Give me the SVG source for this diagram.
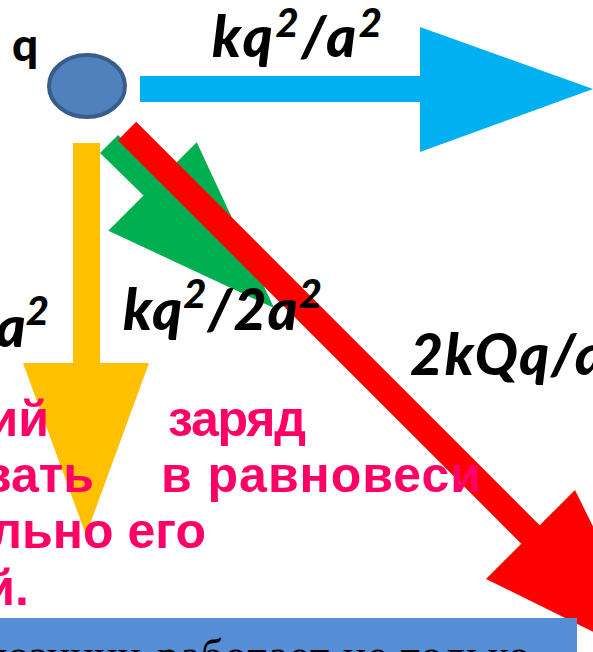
<svg xmlns="http://www.w3.org/2000/svg" width="593" height="652" viewBox="0 0 593 652">
<style>
.math{font-family:Lato,"Noto Sans","Liberation Sans",sans-serif;font-weight:900;font-style:italic;font-size:57px;fill:#000}
.sup{font-size:40px}
.pink{font-family:"Liberation Sans",Arial,sans-serif;font-weight:bold;font-size:50px;fill:#FF0066}
.serif{font-family:"Liberation Serif","Times New Roman",serif;font-size:44px;fill:#000}
</style>
<rect width="593" height="652" fill="#FFFFFF"/>
<g id="connectors">
<polygon id="arrow-blue" fill="#00B0F0" points="140,76 420,76 420,27 593,89 420,152 420,102 140,102"/>
<polygon id="arrow-yellow" fill="#FFC000" points="73,143 100,143 100,363 149,363 86,535 23,363 73,363"/>
<polygon id="arrow-green" fill="#00B050" points="118,135 161.5,177.5 196.7,142.3 274.1,308.1 108.3,230.7 143.5,195.5 100,153"/>
<polygon id="arrow-red" fill="#FF0000" points="136.2,121.8 539.7,525.3 575,490 661.3,665.3 486,579 521.3,543.7 117.8,140.2"/>
</g>
<g id="node-q">
<ellipse cx="87" cy="86" rx="38" ry="31" fill="#4F81BD" stroke="#385D8A" stroke-width="4"/>
<text x="12" y="61" style="font-family:Lato,'Noto Sans','Liberation Sans',sans-serif;font-weight:900;font-size:46px;fill:#000">q</text>
</g>
<g id="labels">
<text class="math" x="212" y="57" textLength="170">kq<tspan class="sup" dy="-20">2</tspan><tspan dy="20">/a</tspan><tspan class="sup" dy="-20">2</tspan></text>
<text class="math" x="123" y="330" textLength="199">kq<tspan class="sup" dy="-22">2</tspan><tspan dy="22">/2a</tspan><tspan class="sup" dy="-22">2</tspan></text>
<text class="math" x="49" y="347" text-anchor="end">a<tspan class="sup" dy="-22">2</tspan></text>
<text class="math" x="410" y="375" textLength="195">2kQq/a</text>
</g>
<g id="pink-text">
<text class="pink" x="49" y="436" text-anchor="end">ий</text>
<text class="pink" x="168" y="436" textLength="138">заряд</text>
<text class="pink" x="94" y="492" text-anchor="end">вать</text>
<text class="pink" x="161" y="492" textLength="320">в равновеси</text>
<text class="pink" x="206" y="548" text-anchor="end">льно его</text>
<text class="pink" x="29" y="605" text-anchor="end">й.</text>
</g>
<g id="bottom-box">
<rect x="-10" y="618" width="587" height="50" fill="#558ED5"/>
<text class="serif" x="141" y="670" text-anchor="end">суперпозиции</text>
<text class="serif" x="157" y="670" textLength="373">работает не только</text>
</g>
</svg>
